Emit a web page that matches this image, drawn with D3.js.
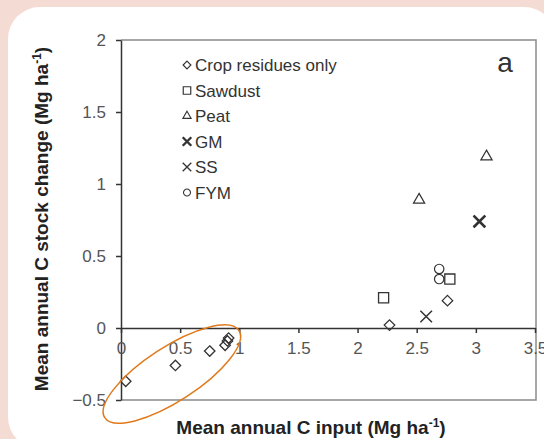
<!DOCTYPE html>
<html>
<head>
<meta charset="utf-8">
<script src="https://cdn.jsdelivr.net/npm/d3@7"></script>
<style>
  html, body { margin: 0; padding: 0; background: #f4dcd5; }
  svg { display: block; }
</style>
</head>
<body>
<script>
var width = 544,
    height = 439;

// data: [C input, C stock change]
var cropResidues = [[0.04, -0.37], [0.46, -0.26], [0.75, -0.16], [0.88, -0.12], [0.90, -0.09], [0.91, -0.07], [2.27, 0.02], [2.76, 0.19]];
var sawdust = [[2.22, 0.21], [2.78, 0.34]];
var peat = [[2.52, 0.89], [3.09, 1.19]];
var gm = [[3.03, 0.74]];
var ss = [[2.58, 0.08], [3.03, 0.74]];
var fym = [[2.69, 0.41], [2.69, 0.34]];

var legendNames = ["Crop residues only", "Sawdust", "Peat", "GM", "SS", "FYM"];
var xTicks = [0, 0.5, 1, 1.5, 2, 2.5, 3, 3.5];
var yTicks = [-0.5, 0, 0.5, 1, 1.5, 2];

var font = "'Liberation Sans', Arial, sans-serif";

var x = d3.scaleLinear().domain([0, 3.5]).range([121, 535]);
var y = d3.scaleLinear().domain([-0.5, 2]).range([400, 40]);

var svg = d3.select("body").append("svg")
    .attr("width", width)
    .attr("height", height);

// white card
svg.append("rect")
    .attr("x", 8).attr("y", 7)
    .attr("width", 548).attr("height", 442)
    .attr("rx", 32)
    .style("fill", "#fff");

// plot frame (top, right, bottom)
svg.append("path")
    .attr("d", "M" + x(0) + "," + y(2) + "H" + (x(3.5) + 1) + "V" + y(-0.5) + "H" + x(0))
    .style("fill", "none")
    .style("stroke", "#8a8a8a")
    .style("stroke-width", 1.5);

// y axis
var yAxis = svg.append("g")
    .attr("transform", "translate(" + x(0) + ",0)")
    .call(d3.axisLeft(y).tickValues(yTicks).tickSize(5).tickSizeOuter(0)
        .tickFormat(function (d) { return d3.format("")(d); }));
yAxis.select(".domain").style("stroke", "#333").style("stroke-width", 1.5);
yAxis.selectAll(".tick line").style("stroke", "#333").style("stroke-width", 1.5);
yAxis.selectAll(".tick text")
    .attr("x", -15)
    .style("font-family", font)
    .style("font-size", "17px")
    .style("fill", "#555");

// x axis along zero
var xAxis = svg.append("g")
    .attr("transform", "translate(0," + y(0) + ")")
    .call(d3.axisBottom(x).tickValues(xTicks).tickSize(5).tickSizeOuter(0)
        .tickFormat(function (d) { return d3.format("")(d); }));
xAxis.select(".domain").style("stroke", "#333").style("stroke-width", 1.5);
xAxis.selectAll(".tick line").style("stroke", "#333").style("stroke-width", 1.5);
xAxis.selectAll(".tick text")
    .attr("y", 14)
    .style("font-family", font)
    .style("font-size", "17px")
    .style("fill", "#555");

// axis titles
var xTitle = svg.append("text")
    .attr("x", 311).attr("y", 434)
    .attr("text-anchor", "middle")
    .style("font-family", font)
    .style("font-size", "19px")
    .style("font-weight", "bold")
    .style("fill", "#222")
    .text("Mean annual C input (Mg ha");
xTitle.append("tspan").attr("dy", -7).style("font-size", "12px").text("-1");
xTitle.append("tspan").attr("dy", 7).text(")");

var yTitle = svg.append("text")
    .attr("transform", "translate(48,219) rotate(-90)")
    .attr("text-anchor", "middle")
    .style("font-family", font)
    .style("font-size", "19px")
    .style("font-weight", "bold")
    .style("fill", "#222")
    .text("Mean annual C stock change (Mg ha");
yTitle.append("tspan").attr("dy", -7).style("font-size", "12px").text("-1");
yTitle.append("tspan").attr("dy", 7).text(")");

// panel letter
svg.append("text")
    .attr("x", 505).attr("y", 72)
    .attr("text-anchor", "middle")
    .style("font-family", font)
    .style("font-size", "28px")
    .style("fill", "#333")
    .text("a");

// symbols
var symbols = [
    { data: cropResidues, type: d3.symbolDiamond2, size: 70, width: 1.3 },
    { data: sawdust, type: d3.symbolSquare2, size: 130, width: 1.3 },
    { data: peat, type: d3.symbolTriangle2, size: 90, width: 1.2 },
    { data: gm, type: d3.symbolTimes, size: 90, width: 2.6 },
    { data: ss, type: d3.symbolTimes, size: 90, width: 1.5 },
    { data: fym, type: d3.symbolCircle, size: 70, width: 1.2 }
];

symbols.forEach(function (s) {
    svg.append("g").selectAll("path")
        .data(s.data)
        .enter()
        .append("path")
        .attr("transform", function (d) { return "translate(" + x(d[0]) + "," + y(d[1]) + ")"; })
        .attr("d", d3.symbol().type(s.type).size(s.size))
        .style("fill", "none")
        .style("stroke", "#333")
        .style("stroke-width", s.width);
});

// legend
var legend = svg.append("g").selectAll("g")
    .data(legendNames)
    .enter()
    .append("g")
    .attr("transform", function (d, i) { return "translate(187," + (65 + i * 25.5) + ")"; });

legend.append("path")
    .attr("d", function (d, i) { return d3.symbol().type(symbols[i].type).size(symbols[i].size * 0.55)(); })
    .style("fill", "none")
    .style("stroke", "#333")
    .style("stroke-width", function (d, i) { return symbols[i].width * 0.9; });

legend.append("text")
    .attr("x", 8)
    .attr("y", 6)
    .style("font-family", font)
    .style("font-size", "17px")
    .style("fill", "#333")
    .text(function (d) { return d; });

// orange annotation ellipse around the crop residue points
svg.append("ellipse")
    .attr("cx", x(0.43)).attr("cy", y(-0.32))
    .attr("rx", 80).attr("ry", 27)
    .attr("transform", "rotate(-33," + x(0.43) + "," + y(-0.32) + ")")
    .style("fill", "none")
    .style("stroke", "#e07a1c")
    .style("stroke-width", 1.5);
</script>
</body>
</html>
